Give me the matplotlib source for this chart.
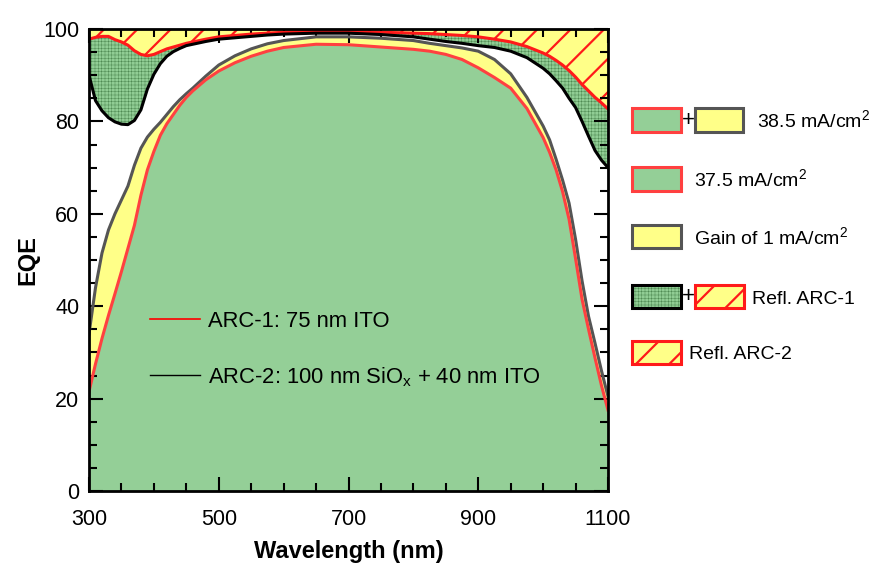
import numpy as np
import matplotlib
matplotlib.use("Agg")
import matplotlib.pyplot as plt
from matplotlib.patches import Rectangle
from matplotlib.lines import Line2D
from matplotlib.ticker import MultipleLocator, FixedLocator

plt.rcParams['font.family'] = ['Liberation Sans', 'DejaVu Sans']
plt.rcParams['mathtext.fontset'] = 'custom'
plt.rcParams['mathtext.rm'] = 'Liberation Sans'
plt.rcParams['mathtext.it'] = 'Liberation Sans:italic'
plt.rcParams['mathtext.bf'] = 'Liberation Sans:bold'

# ---------------- data ----------------
wavelength = [300, 310, 320, 330, 340, 350, 360, 370, 380, 390, 400, 410, 420,
              430, 440, 450, 460, 480, 500, 525, 550, 575, 600, 650, 700, 750,
              800, 825, 850, 875, 900, 925, 950, 975, 1000, 1010, 1020, 1030,
              1040, 1050, 1060, 1070, 1080, 1090, 1100]

# EQE of cell with ARC-1 (75 nm ITO)
eqe_arc1 = [21.5, 27.5, 33, 38, 42.7, 47.5, 52.5, 57.5, 64, 69.5, 73.5, 77,
            79.5, 81.5, 83.5, 85.2, 86.6, 89, 90.9, 92.7, 94.1, 95.2, 96, 96.7,
            96.6, 96.1, 95.6, 95.2, 94.5, 93.4, 91.6, 89.5, 87.2, 82.8, 76.5,
            73.3, 69.5, 64.8, 58.8, 50.3, 41.5, 35, 28.8, 22.8, 17.5]

# EQE of cell with ARC-2 (100 nm SiOx + 40 nm ITO)
eqe_arc2 = [34, 44, 51.5, 56.5, 60, 63, 66, 70.5, 74.2, 76.6, 78.3, 79.8, 81.5,
            83.2, 84.7, 86, 87.2, 89.8, 92.2, 94.2, 95.7, 96.8, 97.5, 98.3,
            98.3, 98.0, 97.5, 96.9, 96.4, 95.9, 95.2, 93.4, 90.3, 85.2, 79, 76,
            71.8, 67.3, 62.3, 54.5, 45.5, 37.8, 32, 26, 20.5]

# 100 - reflectance, ARC-1
one_minus_refl_arc1 = [90, 84.5, 82.3, 80.8, 79.9, 79.4, 79.3, 80.2, 82.5, 87,
                       90.2, 92.5, 94.1, 95.1, 95.8, 96.4, 96.7, 97.3, 97.8,
                       98.1, 98.4, 98.7, 98.9, 99.1, 99.1, 98.8, 98.3, 97.8,
                       97.3, 96.9, 96.4, 96, 95.2, 93.8, 91.5, 90.3, 88.8,
                       87.2, 85, 83, 80, 76.8, 73.7, 71.6, 70]

# 100 - reflectance, ARC-2
one_minus_refl_arc2 = [97.8, 98.2, 98.4, 98.4, 97.7, 97.2, 96.5, 95.3, 94.5,
                       94.2, 94.5, 95.1, 95.7, 96.1, 96.5, 96.9, 97.2, 97.8,
                       98.3, 98.6, 98.9, 99.1, 99.3, 99.5, 99.5, 99.3, 99.1,
                       99.0, 98.8, 98.6, 98.3, 97.8, 97.2, 96.2, 94.8, 94.1,
                       93.2, 92.2, 91, 89.6, 88, 86.6, 85.2, 84, 82.7]

x_ticks = [300, 500, 700, 900, 1100]
legend_labels = ["38.5 mA/cm$^2$", "37.5 mA/cm$^2$", "Gain of 1 mA/cm$^2$",
                 "Refl. ARC-1", "Refl. ARC-2"]
line_labels = ["ARC-1: 75 nm ITO",
               "ARC-2: 100 nm SiO$_\\mathrm{x}$ + 40 nm ITO"]

# ---------------- styles ----------------
GREEN = '#94CF97'
DOTGREEN = '#90cd94'
DOTCOL = '#447f48'
YEL = '#FFFF88'
RED = '#FF1A1A'
RED_EQE = '#FF4040'
GRAY = '#555555'

W, H = 885, 573
fig = plt.figure(figsize=(W / 100, H / 100), dpi=100)
ax = fig.add_axes([89 / W, 1 - 491 / H, 519 / W, 462 / H])

w = np.array(wavelength, float)
e1 = np.array(eqe_arc1, float)
e2 = np.array(eqe_arc2, float)
r1 = np.array(one_minus_refl_arc1, float)
r2 = np.array(one_minus_refl_arc2, float)

with plt.rc_context({'hatch.linewidth': 1.6}):
    ax.fill_between(w, r2, 100, facecolor=YEL, edgecolor=RED, hatch='/',
                    linewidth=0, zorder=1)
with plt.rc_context({'hatch.linewidth': 0.3}):
    ax.fill_between(w, r1, r2, where=r1 <= r2, interpolate=True,
                    facecolor=DOTGREEN, edgecolor=DOTCOL,
                    hatch='+++++', linewidth=0, zorder=1)

ax.fill_between(w, 0, e1, facecolor=GREEN, linewidth=0, zorder=1)
ax.fill_between(w, e1, e2, where=e2 >= e1, interpolate=True, facecolor=YEL,
                linewidth=0, zorder=1)

ax.plot(w, r2, color=RED, lw=2.2, zorder=3)
ax.plot(w, r1, color='black', lw=2.2, zorder=3)
ax.plot(w, e2, color=GRAY, lw=2.2, zorder=3)
ax.plot(w, e1, color=RED_EQE, lw=2.2, zorder=4)

ax.set_xlim(300, 1100)
ax.set_ylim(0, 100)
ax.xaxis.set_major_locator(FixedLocator(x_ticks))
ax.xaxis.set_minor_locator(MultipleLocator(50))
ax.yaxis.set_major_locator(MultipleLocator(20))
ax.yaxis.set_minor_locator(MultipleLocator(5))
ax.tick_params(which='both', direction='in', top=True, right=True,
               width=1.5, colors='black')
ax.tick_params(which='major', length=10, labelsize=15.5)
ax.tick_params(which='minor', length=5.5)
ax.tick_params(axis='x', which='major', pad=13)
ax.tick_params(axis='y', which='major', pad=7)
for s in ax.spines.values():
    s.set_linewidth(2)
    s.set_zorder(5)
ax.set_xlabel('Wavelength (nm)', fontsize=17, fontweight='bold', labelpad=7)
ax.set_ylabel('EQE', fontsize=17, fontweight='bold', labelpad=3)

# in-plot line legend
handles = [Line2D([], [], color='red', lw=1.2),
           Line2D([], [], color='black', lw=1.0)]
ax.legend(handles, line_labels, loc='upper left',
          bbox_to_anchor=(150 / W, 1 - 311 / H), bbox_transform=fig.transFigure,
          frameon=False, fontsize=15.8, handlelength=2.3, handletextpad=0.35,
          labelspacing=1.5, borderpad=0, borderaxespad=0)


# right-hand legend built from patches
def rect(x0, y0, x1, y1, fc, ec, hatch=None, hlw=1.0):
    with plt.rc_context({'hatch.linewidth': hlw}):
        r = Rectangle((x0 / W, 1 - y1 / H), (x1 - x0) / W, (y1 - y0) / H,
                      transform=fig.transFigure, facecolor=fc,
                      edgecolor=ec, lw=2.2, hatch=hatch)
    fig.add_artist(r)


def rect_hatched(x0, y0, x1, y1, fc, hc, ec, hatch, hlw):
    with plt.rc_context({'hatch.linewidth': hlw}):
        r = Rectangle((x0 / W, 1 - y1 / H), (x1 - x0) / W, (y1 - y0) / H,
                      transform=fig.transFigure, facecolor=fc,
                      edgecolor=hc, lw=0, hatch=hatch)
    fig.add_artist(r)
    r2_ = Rectangle((x0 / W, 1 - y1 / H), (x1 - x0) / W, (y1 - y0) / H,
                    transform=fig.transFigure, facecolor='none',
                    edgecolor=ec, lw=2.2)
    fig.add_artist(r2_)


def txt(x, yc, s, size=14):
    fig.text(x / W, 1 - (yc + 7) / H, s, fontsize=size, va='baseline',
             ha='left')


def plus(x, yc):
    fig.text(x / W, 1 - yc / H, '+', fontsize=16, va='center', ha='center')


rect(632, 108, 681, 132, GREEN, RED_EQE)
plus(688, 120)
rect(695, 108, 743, 132, YEL, GRAY)
txt(757, 120, legend_labels[0])

rect(632, 167, 681, 191, GREEN, RED_EQE)
txt(694, 179, legend_labels[1])

rect(632, 225, 681, 248, YEL, GRAY)
txt(694, 237, legend_labels[2])

rect_hatched(632, 285, 681, 308, DOTGREEN, DOTCOL, 'black', '+++++', 0.3)
plus(688, 297)
rect(695, 285, 744, 308, YEL, RED, hatch='/', hlw=1.6)
txt(752, 297, legend_labels[3])

rect(632, 341, 681, 364, YEL, RED, hatch='/', hlw=1.6)
txt(689, 352, legend_labels[4])

fig.savefig('out.png', dpi=100)
